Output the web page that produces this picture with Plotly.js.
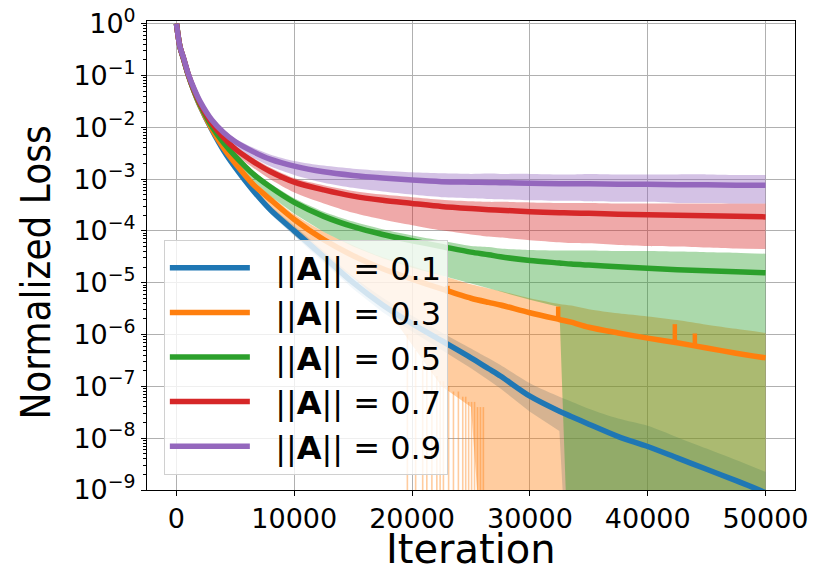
<!DOCTYPE html>
<html>
<head>
<meta charset="utf-8">
<script src="https://cdn.plot.ly/plotly-3.0.1.min.js"></script>
<style>
  body { margin: 0; background: #fff; }
  #chart { width: 830px; height: 581px; }
</style>
</head>
<body>
<div id="chart"></div>
<script>
// iteration grid shared by all runs
var iters = [0, 300, 600, 1000, 1500, 2000, 3000, 4000, 5000, 6500, 8000, 10000, 12500, 15000, 17500,
             20000, 22500, 25000, 26500, 27500, 30000, 32500, 33500, 35000, 37500, 40000, 42500, 45000, 47500, 50000];

// everything below is log10(normalized loss); -12 = band hits zero
var blueMean  = [0, -0.45, -0.68, -0.99, -1.31, -1.59, -2.05, -2.45, -2.78, -3.22, -3.60, -4.00, -4.50, -5.00, -5.43,
                 -5.79, -6.12, -6.45, -6.66, -6.80, -7.19, -7.48, -7.58, -7.73, -7.97, -8.16, -8.38, -8.60, -8.82, -9.05];
var blueUpper = [0, -0.43, -0.66, -0.97, -1.29, -1.57, -2.02, -2.41, -2.73, -3.16, -3.52, -3.90, -4.39, -4.88, -5.29,
                 -5.64, -5.96, -6.27, -6.46, -6.59, -6.94, -7.20, -7.29, -7.43, -7.62, -7.76, -7.98, -8.20, -8.42, -8.65];
var blueLower = [-0.01, -0.48, -0.71, -1.02, -1.34, -1.62, -2.09, -2.50, -2.84, -3.29, -3.68, -4.10, -4.61, -5.12, -5.57,
                 -5.94, -6.29, -6.65, -6.88, -7.04, -7.49, -7.86, -12, -12, -12, -12, -12, -12, -12, -12];

var orangeMean  = [0, -0.45, -0.68, -0.99, -1.31, -1.58, -2.03, -2.40, -2.70, -3.10, -3.40, -3.78, -4.17, -4.48, -4.73,
                   -4.93, -5.12, -5.30, -5.38, -5.43, -5.58, -5.71, -5.76, -5.86, -5.97, -6.07, -6.16, -6.26, -6.36, -6.45];
var orangeUpper = [0, -0.43, -0.66, -0.97, -1.29, -1.56, -2.00, -2.36, -2.65, -3.03, -3.32, -3.68, -4.02, -4.28, -4.51,
                   -4.68, -4.86, -5.03, -5.11, -5.16, -5.30, -5.41, -5.44, -5.51, -5.59, -5.65, -5.72, -5.81, -5.89, -5.97];
var orangeLower = [-0.01, -0.48, -0.71, -1.02, -1.34, -1.61, -2.08, -2.47, -2.80, -3.25, -3.60, -4.08, -4.50, -4.90, -5.40,
                   -6.20, -7.00, -7.40, -12, -12, -12, -12, -12, -12, -12, -12, -12, -12, -12, -12];
// thin streaks where the 0.3 band briefly drops to zero
var orangeStreakX   = [19600, 20300, 20900, 21250, 21680, 22100, 22380, 22660, 23100, 23510, 23930,
                       24300, 24550, 24800, 25050, 25300, 25550, 25800, 26050];
var orangeStreakTop = [-6.0, -6.3, -6.5, -6.6, -6.7, -6.8, -6.9, -6.9, -7.0, -7.1, -7.1,
                       -7.2, -7.2, -7.3, -7.3, -7.3, -7.4, -7.4, -7.4];
// short upward spikes on the 0.3 curve
var orangeSpikeX    = [23000, 32400, 42300, 44000];
var orangeSpikeBase = [-5.21, -5.70, -6.15, -6.22];
var orangeSpikeTop  = [-5.06, -5.46, -5.80, -5.98];

var greenMean  = [0, -0.45, -0.68, -0.99, -1.30, -1.56, -1.98, -2.30, -2.56, -2.90, -3.16, -3.45, -3.72, -3.92, -4.07,
                  -4.19, -4.30, -4.41, -4.46, -4.50, -4.57, -4.62, -4.64, -4.66, -4.69, -4.72, -4.75, -4.77, -4.79, -4.81];
var greenUpper = [0, -0.43, -0.66, -0.97, -1.28, -1.54, -1.95, -2.26, -2.51, -2.84, -3.09, -3.37, -3.63, -3.82, -3.97,
                  -4.09, -4.19, -4.29, -4.31, -4.34, -4.37, -4.38, -4.38, -4.38, -4.39, -4.39, -4.40, -4.41, -4.42, -4.44];
var greenLower = [-0.01, -0.48, -0.71, -1.02, -1.33, -1.59, -2.03, -2.37, -2.66, -3.03, -3.33, -3.67, -4.02, -4.30, -4.53,
                  -4.71, -4.86, -5.01, -5.10, -5.17, -5.33, -5.47, -12, -12, -12, -12, -12, -12, -12, -12];

var redMean  = [0, -0.45, -0.67, -0.98, -1.28, -1.53, -1.92, -2.20, -2.42, -2.66, -2.86, -3.06, -3.21, -3.33, -3.41,
                -3.47, -3.53, -3.57, -3.59, -3.60, -3.63, -3.65, -3.655, -3.66, -3.68, -3.69, -3.70, -3.71, -3.72, -3.73];
var redUpper = [0, -0.43, -0.65, -0.96, -1.26, -1.51, -1.88, -2.15, -2.36, -2.59, -2.78, -2.98, -3.12, -3.23, -3.30,
                -3.35, -3.40, -3.43, -3.44, -3.44, -3.45, -3.46, -3.46, -3.46, -3.47, -3.47, -3.47, -3.47, -3.47, -3.47];
var redLower = [-0.01, -0.48, -0.70, -1.01, -1.31, -1.56, -1.98, -2.28, -2.52, -2.78, -3.01, -3.26, -3.47, -3.65, -3.78,
                -3.89, -3.99, -4.07, -4.11, -4.13, -4.18, -4.22, -4.235, -4.24, -4.27, -4.29, -4.30, -4.32, -4.34, -4.35];

var purpleMean  = [0, -0.45, -0.66, -0.97, -1.26, -1.50, -1.86, -2.10, -2.28, -2.47, -2.62, -2.75, -2.86, -2.93, -2.98,
                   -3.02, -3.05, -3.06, -3.065, -3.07, -3.08, -3.09, -3.09, -3.09, -3.10, -3.10, -3.11, -3.11, -3.12, -3.12];
var purpleUpper = [0, -0.43, -0.64, -0.95, -1.24, -1.48, -1.82, -2.05, -2.22, -2.39, -2.53, -2.65, -2.74, -2.80, -2.84,
                   -2.87, -2.89, -2.90, -2.895, -2.90, -2.90, -2.91, -2.91, -2.90, -2.91, -2.91, -2.91, -2.91, -2.92, -2.92];
var purpleLower = [-0.01, -0.48, -0.69, -1.00, -1.29, -1.53, -1.91, -2.17, -2.37, -2.59, -2.76, -2.92, -3.07, -3.17, -3.24,
                   -3.30, -3.35, -3.37, -3.385, -3.39, -3.41, -3.42, -3.42, -3.43, -3.44, -3.44, -3.46, -3.46, -3.47, -3.47];

var normLabels = ['0.1', '0.3', '0.5', '0.7', '0.9'];
var yTickExp = [0, -1, -2, -3, -4, -5, -6, -7, -8, -9];

var colors = ['#1f77b4', '#ff7f0e', '#2ca02c', '#d62728', '#9467bd'];
var bandColors = ['rgba(31,119,180,0.3)', 'rgba(255,127,14,0.4)', 'rgba(44,160,44,0.4)',
                  'rgba(214,39,40,0.4)', 'rgba(148,103,189,0.4)'];

var means = [blueMean, orangeMean, greenMean, redMean, purpleMean];
var uppers = [blueUpper, orangeUpper, greenUpper, redUpper, purpleUpper];
var lowers = [blueLower, orangeLower, greenLower, redLower, purpleLower];
// lower edges that drop to zero stay straight, the rest are smoothed
var lowerSmooth = [false, false, false, true, true];

function lin(arr) {
    return arr.map(function (e) { return Math.pow(10, e); });
}

var data = [];
// bands first so every line sits on top of them
for (var i = 0; i < 5; i++) {
    data.push({
        x: iters, y: lin(lowers[i]), mode: 'lines',
        line: {width: 0, color: colors[i], shape: lowerSmooth[i] ? 'spline' : 'linear', smoothing: 0.8},
        showlegend: false, hoverinfo: 'skip'
    });
    data.push({
        x: iters, y: lin(uppers[i]), mode: 'lines',
        line: {width: 0, color: colors[i], shape: 'spline', smoothing: 0.8},
        fill: 'tonexty', fillcolor: bandColors[i], showlegend: false, hoverinfo: 'skip'
    });
    if (i === 1) {
        var stx = [], sty = [];
        orangeStreakX.forEach(function (x, k) {
            stx.push(x, x, null);
            sty.push(Math.pow(10, orangeStreakTop[k]), 1e-12, null);
        });
        data.push({x: stx, y: sty, mode: 'lines', line: {width: 1.6, color: 'rgba(255,127,14,0.4)'},
                   showlegend: false, hoverinfo: 'skip'});
    }
}
for (var j = 0; j < 5; j++) {
    data.push({
        x: iters, y: lin(means[j]), mode: 'lines',
        line: {width: 5.5, color: colors[j], shape: 'spline', smoothing: 0.8},
        name: '\u00a0\u00a0||<b>A</b>|| = ' + normLabels[j],
        legendgroup: 'g' + j
    });
    if (j === 1) {
        var sx = [], sy = [];
        orangeSpikeX.forEach(function (x, k) {
            sx.push(x, x, null);
            sy.push(Math.pow(10, orangeSpikeBase[k]), Math.pow(10, orangeSpikeTop[k]), null);
        });
        data.push({x: sx, y: sy, mode: 'lines', line: {width: 4.5, color: colors[1]},
                   showlegend: false, hoverinfo: 'skip'});
    }
}

var layout = {
    width: 830, height: 581,
    margin: {l: 147, r: 35, t: 21, b: 91},
    paper_bgcolor: '#fff', plot_bgcolor: '#fff',
    font: {family: 'DejaVu Sans', color: '#000', size: 27},
    showlegend: true,
    legend: {
        x: 0.026, y: 0.033, xanchor: 'left', yanchor: 'bottom',
        bgcolor: 'rgba(255,255,255,0.8)', bordercolor: '#d0d0d0', borderwidth: 1,
        font: {size: 32, color: '#000'}, tracegroupgap: 0, itemwidth: 80
    },
    xaxis: {
        range: [-2500, 52500], tick0: 0, dtick: 10000, tickformat: 'd',
        showgrid: true, gridcolor: '#b0b0b0', gridwidth: 1,
        showline: true, linecolor: '#000', linewidth: 1, mirror: true,
        ticks: 'outside', ticklen: 5, tickcolor: '#000', zeroline: false,
        tickfont: {size: 27}
    },
    yaxis: {
        type: 'log', range: [-9, 0.05],
        tickmode: 'array',
        tickvals: yTickExp.map(function (e) { return Math.pow(10, e); }),
        ticktext: yTickExp.map(function (e) { return '10<sup>' + (e < 0 ? '\u2212' + (-e) : e) + '</sup>'; }),
        showgrid: true, gridcolor: '#b0b0b0', gridwidth: 1,
        showline: true, linecolor: '#000', linewidth: 1, mirror: true,
        ticks: 'outside', ticklen: 5, tickcolor: '#000', zeroline: false,
        minor: {ticks: 'outside', ticklen: 3, tickcolor: '#000', dtick: 'D1', showgrid: false},
        tickfont: {size: 27}
    },
    annotations: [
        {text: 'Iteration', xref: 'paper', yref: 'paper', x: 0.5, y: -0.126,
         xanchor: 'center', yanchor: 'middle', showarrow: false, font: {size: 40}},
        {text: 'Normalized Loss', xref: 'paper', yref: 'paper', x: -0.171, y: 0.464, textangle: -90,
         xanchor: 'center', yanchor: 'middle', showarrow: false,
         font: {size: 40, family: 'DejaVu Sans Condensed, DejaVu Sans'}}
    ]
};

Plotly.newPlot('chart', data, layout, {staticPlot: true});
</script>
</body>
</html>
